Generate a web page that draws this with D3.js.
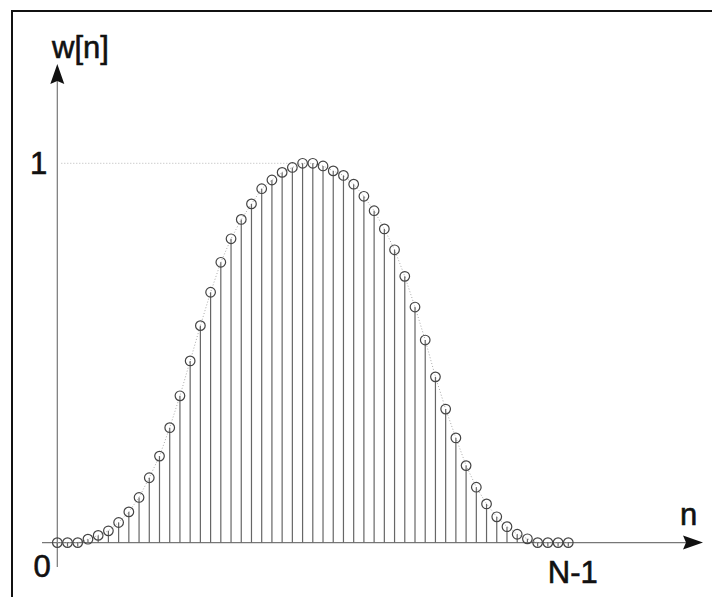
<!DOCTYPE html>
<html>
<head>
<meta charset="utf-8">
<script src="https://cdn.jsdelivr.net/npm/d3@7"></script>
<style>
  body { margin: 0; background: #fff; }
  svg text { font-family: "Liberation Sans", Arial, sans-serif; fill: #111; stroke: #111; stroke-width: 0.6; }
</style>
</head>
<body>
<svg id="chart" width="712" height="597"></svg>
<script>
// window samples w[n], n = 0 .. N-1
let sampleIndex = d3.range(51);
let windowValues = [
    0, 0, 0, 0.009, 0.019, 0.031, 0.053, 0.081, 0.119, 0.171,
    0.228, 0.303, 0.387, 0.479, 0.572, 0.660, 0.739, 0.801, 0.852, 0.893,
    0.933, 0.956, 0.976, 0.989, 1.0, 1.0, 0.993, 0.980, 0.968, 0.945,
    0.913, 0.875, 0.827, 0.772, 0.702, 0.621, 0.534, 0.437, 0.352, 0.276,
    0.203, 0.146, 0.102, 0.068, 0.042, 0.022, 0.010, 0, 0, 0,
    0
];
let xTickValues = [0, 50];
let xTickLabels = ["0", "N-1"];
let yTickValues = [1];
let yTickLabels = ["1"];

let svg = d3.select("#chart");

let x = d3.scaleLinear().domain([0, 50]).range([57.3, 568.3]);
let y = d3.scaleLinear().domain([0, 1]).range([542.6, 163.3]);

let data = sampleIndex.map(function (n, i) {
    return {n: n, w: windowValues[i]};
});

// frame
svg.append("path")
    .attr("d", "M12,597 L12,11 L712,11")
    .attr("fill", "none")
    .attr("stroke", "#111")
    .attr("stroke-width", 2);

// dotted guide at w = 1
svg.append("line")
    .attr("x1", x(0) + 4).attr("x2", x(24))
    .attr("y1", y(1)).attr("y2", y(1))
    .attr("stroke", "#b8b8b8")
    .attr("stroke-width", 1)
    .attr("stroke-dasharray", "1,2");

// axes lines
svg.append("line")
    .attr("x1", 42).attr("x2", 690)
    .attr("y1", y(0)).attr("y2", y(0))
    .attr("stroke", "#777").attr("stroke-width", 1.2);
svg.append("line")
    .attr("x1", x(0)).attr("x2", x(0))
    .attr("y1", 567).attr("y2", 78)
    .attr("stroke", "#777").attr("stroke-width", 1.2);

// arrow heads
svg.append("path")
    .attr("d", "M703," + y(0) + " L683," + (y(0) - 7) + " L686," + y(0) + " L683," + (y(0) + 7) + "Z")
    .attr("fill", "#111");
svg.append("path")
    .attr("d", "M" + x(0) + ",64 L" + (x(0) - 7) + ",84 L" + x(0) + ",81 L" + (x(0) + 7) + ",84Z")
    .attr("fill", "#111");

// tick labels through axes
let xAxis = svg.append("g")
    .attr("transform", "translate(0," + y(0) + ")")
    .call(d3.axisBottom(x).tickValues(xTickValues).tickSize(0)
        .tickFormat(function (d, i) { return xTickLabels[i]; }));
xAxis.select(".domain").remove();
xAxis.selectAll("text")
    .attr("font-size", 31)
    .attr("fill", "#111")
    .attr("text-anchor", function (d, i) { return i === 0 ? "end" : "middle"; })
    .attr("x", function (d, i) { return i === 0 ? -7 : 4; })
    .attr("y", function (d, i) { return i === 0 ? 34.5 : 40.5; })
    .attr("dy", null);

let yAxis = svg.append("g")
    .attr("transform", "translate(" + x(0) + ",0)")
    .call(d3.axisLeft(y).tickValues(yTickValues).tickSize(0)
        .tickFormat(function (d, i) { return yTickLabels[i]; }));
yAxis.select(".domain").remove();
yAxis.selectAll("text")
    .attr("font-size", 31)
    .attr("fill", "#111")
    .attr("x", -10)
    .attr("dy", "0.33em");

// axis titles
svg.append("text")
    .attr("x", 52).attr("y", 58)
    .attr("font-size", 31)
    .text("w[n]");
svg.append("text")
    .attr("x", 680).attr("y", 525)
    .attr("font-size", 31)
    .text("n");

// dotted envelope
svg.append("path")
    .datum(data)
    .attr("fill", "none")
    .attr("stroke", "#aaa")
    .attr("stroke-width", 1)
    .attr("stroke-dasharray", "1,2")
    .attr("d", d3.line()
        .x(function (d) { return x(d.n); })
        .y(function (d) { return y(d.w); }));

// stems
svg.append("g")
    .selectAll("line")
    .data(data)
    .enter().append("line")
    .attr("x1", function (d) { return x(d.n); })
    .attr("x2", function (d) { return x(d.n); })
    .attr("y1", function (d) { return y(0) + (d.w === 0 ? 4 : 0); })
    .attr("y2", function (d) { return y(d.w); })
    .attr("stroke", "#666")
    .attr("stroke-width", 1.2);

// sample markers
svg.append("g")
    .selectAll("circle")
    .data(data)
    .enter().append("circle")
    .attr("cx", function (d) { return x(d.n); })
    .attr("cy", function (d) { return y(d.w); })
    .attr("r", 4.8)
    .attr("fill", "none")
    .attr("stroke", "#444")
    .attr("stroke-width", 1.2);
</script>
</body>
</html>
